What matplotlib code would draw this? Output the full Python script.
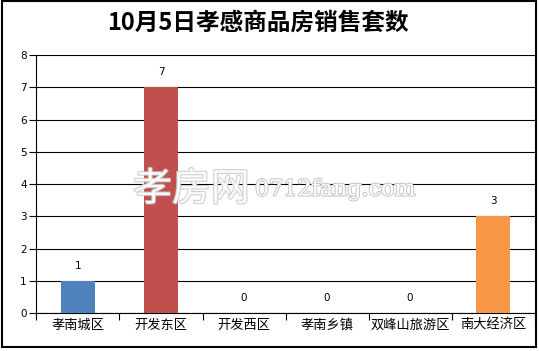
import matplotlib.pyplot as plt
import matplotlib.patheffects as pe
from matplotlib.patches import Rectangle

plt.rcParams["font.family"] = ["Noto Sans CJK SC", "DejaVu Sans"]

# ---- 数据 ----
areas = ["孝南城区", "开发东区", "开发西区", "孝南乡镇", "双峰山旅游区", "南大经济区"]
counts = [1, 7, 0, 0, 0, 3]
bar_colors = ["#4F81BD", "#C0504D", "#9BBB59", "#8064A2", "#4BACC6", "#F79646"]

fig = plt.figure(figsize=(5.39, 3.51), dpi=100)
ax = fig.add_axes([0.0677, 0.108, 0.924, 0.735])

x = list(range(len(areas)))
ax.bar(x, counts, width=0.41, color=bar_colors, zorder=3)

# 柱子上方数值
for i, c in enumerate(counts):
    ax.annotate(str(c), (i, c), xytext=(0, 11), textcoords="offset points",
                ha="center", va="center", fontsize=7.5, family="DejaVu Sans")

ax.set_xlim(-0.5, len(areas) - 0.5)
ax.set_ylim(0, 8)
ax.set_yticks(range(0, 9))
ax.yaxis.grid(True, color="black", linewidth=0.8, zorder=1)
ax.set_axisbelow(True)

ax.set_xticks(x)
ax.set_xticklabels(areas, fontsize=9.5)
ax.set_xticks([i + 0.5 for i in range(-1, len(areas))], minor=True)
ax.tick_params(axis="x", which="major", length=0, pad=4)
ax.tick_params(axis="x", which="minor", length=5, width=0.8, direction="out")
ax.tick_params(axis="y", length=5, width=0.8, labelsize=7.5, pad=2)
for lab in ax.get_yticklabels():
    lab.set_family("DejaVu Sans")

for s in ["top", "right"]:
    ax.spines[s].set_visible(False)
ax.spines["left"].set_linewidth(0.8)
ax.spines["bottom"].set_linewidth(0.8)

# 标题
fig.text(0.479, 0.937, "10月5日孝感商品房销售套数", ha="center", va="center",
         fontsize=17, fontweight="bold")

# 水印
fig.text(0.355, 0.46, "孝房网", ha="center", va="center", fontsize=28,
         color="white", alpha=0.85, zorder=5,
         path_effects=[pe.withStroke(linewidth=1.5, foreground="#c8c8c8")])
fig.text(0.473, 0.46, "0712fang.com", ha="left", va="center", fontsize=16,
         family="DejaVu Serif", color="white", zorder=5,
         path_effects=[pe.withStroke(linewidth=1.5, foreground="#c8c8c8")])

# 外框
fig.patches.append(Rectangle((0.003, 0.01), 0.991, 0.986, transform=fig.transFigure,
                             fill=False, edgecolor="black", linewidth=1.5))

fig.savefig("out.png", dpi=100)
